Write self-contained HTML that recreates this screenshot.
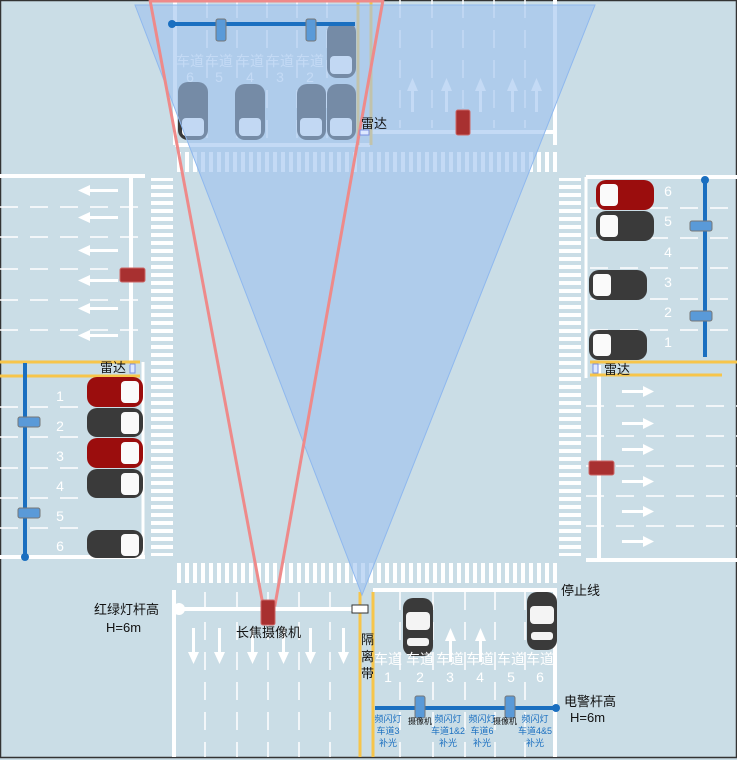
<!DOCTYPE html>
<html><head><meta charset="utf-8"><style>
html,body{margin:0;padding:0;background:#fff}
svg{display:block}
text{font-family:"Liberation Sans","Noto Sans CJK SC",sans-serif}
</style></head><body>
<svg id="s" width="737" height="760" viewBox="0 0 737 760">
<defs>
<pattern id="zh" width="8" height="20" patternUnits="userSpaceOnUse"><rect x="1" y="0" width="4" height="20" fill="#fff"/></pattern>
<pattern id="zv" width="22" height="8" patternUnits="userSpaceOnUse"><rect x="0" y="1" width="22" height="4" fill="#fff"/></pattern>
<g id="carv"><rect x="0" y="0" width="30" height="58" rx="10" fill="#3a3a3a"/><rect x="3" y="14" width="24" height="18" rx="4" fill="#f4f4f4"/><rect x="4" y="40" width="22" height="8" rx="3" fill="#f4f4f4"/></g>
</defs>
<rect x="0" y="0" width="737" height="760" fill="#cadde6"/>
<rect x="0.5" y="0.5" width="736" height="757" fill="none" stroke="#333" stroke-width="1.5"/>

<!-- crosswalks -->
<rect x="175" y="152" width="382" height="20" fill="url(#zh)"/>
<rect x="175" y="563" width="382" height="20" fill="url(#zh)"/>
<rect x="151" y="178" width="22" height="378" fill="url(#zv)"/>
<rect x="559" y="178" width="22" height="378" fill="url(#zv)"/>

<g stroke="#fff" fill="none">
<!-- north -->
<line x1="175" y1="0" x2="175" y2="145" stroke-width="4"/>
<line x1="175" y1="145" x2="370" y2="145" stroke-width="4"/>
<line x1="555" y1="0" x2="555" y2="145" stroke-width="4"/>
<line x1="370" y1="132" x2="555" y2="132" stroke-width="4"/>
<g stroke-width="1.5" stroke-dasharray="18,12"><line x1="207" y1="0" x2="207" y2="140"/><line x1="237" y1="0" x2="237" y2="140"/><line x1="267" y1="0" x2="267" y2="140"/><line x1="297" y1="0" x2="297" y2="140"/><line x1="327" y1="0" x2="327" y2="140"/><line x1="400" y1="0" x2="400" y2="128"/><line x1="432" y1="0" x2="432" y2="128"/><line x1="463" y1="0" x2="463" y2="128"/><line x1="494" y1="0" x2="494" y2="128"/><line x1="525" y1="0" x2="525" y2="128"/></g>
<!-- west -->
<line x1="0" y1="176" x2="145" y2="176" stroke-width="4"/>
<line x1="131" y1="176" x2="131" y2="365" stroke-width="4"/>
<line x1="0" y1="557" x2="145" y2="557" stroke-width="4"/>
<line x1="143" y1="362" x2="143" y2="557" stroke-width="3"/>
<g stroke-width="1.5" stroke-dasharray="18,12"><line x1="0" y1="207" x2="145" y2="207"/><line x1="0" y1="237" x2="145" y2="237"/><line x1="0" y1="269" x2="145" y2="269"/><line x1="0" y1="300" x2="145" y2="300"/><line x1="0" y1="330" x2="145" y2="330"/><line x1="0" y1="407" x2="85" y2="407"/><line x1="0" y1="437" x2="85" y2="437"/><line x1="0" y1="468" x2="85" y2="468"/><line x1="0" y1="498" x2="85" y2="498"/><line x1="0" y1="528" x2="85" y2="528"/></g>
<!-- east -->
<line x1="586" y1="177" x2="737" y2="177" stroke-width="4"/>
<line x1="586" y1="177" x2="586" y2="378" stroke-width="3"/>
<line x1="599" y1="365" x2="599" y2="560" stroke-width="4"/>
<line x1="586" y1="560" x2="737" y2="560" stroke-width="4"/>
<g stroke-width="1.5" stroke-dasharray="18,12"><line x1="590" y1="208" x2="737" y2="208"/><line x1="590" y1="238" x2="737" y2="238"/><line x1="590" y1="268" x2="737" y2="268"/><line x1="590" y1="299" x2="737" y2="299"/><line x1="590" y1="330" x2="737" y2="330"/><line x1="586" y1="406" x2="737" y2="406"/><line x1="586" y1="436" x2="737" y2="436"/><line x1="586" y1="466" x2="737" y2="466"/><line x1="586" y1="496" x2="737" y2="496"/><line x1="586" y1="526" x2="737" y2="526"/></g>
<!-- south -->
<line x1="174" y1="590" x2="174" y2="757" stroke-width="4"/>
<line x1="373" y1="590" x2="557" y2="590" stroke-width="4"/>
<line x1="555" y1="590" x2="555" y2="757" stroke-width="4"/>
<g stroke-width="1.5" stroke-dasharray="18,12"><line x1="205" y1="592" x2="205" y2="757"/><line x1="237" y1="592" x2="237" y2="757"/><line x1="268" y1="592" x2="268" y2="757"/><line x1="299" y1="592" x2="299" y2="757"/><line x1="330" y1="592" x2="330" y2="757"/><line x1="400" y1="592" x2="400" y2="757"/><line x1="433" y1="592" x2="433" y2="757"/><line x1="465" y1="592" x2="465" y2="757"/><line x1="495" y1="592" x2="495" y2="757"/><line x1="525" y1="592" x2="525" y2="757"/></g>
</g>

<!-- arrows -->
<g fill="#fff">
<g id="arrL"><rect x="88" y="189" width="30" height="3"/><polygon points="78,190.5 90,185 90,196"/></g>
<use href="#arrL" y="27"/><use href="#arrL" y="60"/><use href="#arrL" y="90"/><use href="#arrL" y="118"/><use href="#arrL" y="145"/>
<g id="arrR"><rect x="622" y="390" width="24" height="3"/><polygon points="654,391.5 643,386 643,397"/></g>
<use href="#arrR" y="32"/><use href="#arrR" y="58"/><use href="#arrR" y="90"/><use href="#arrR" y="120"/><use href="#arrR" y="150"/>
<g id="arrD"><rect x="192" y="628" width="3" height="28"/><polygon points="193.5,664 188,652 199,652"/></g>
<use href="#arrD" x="26"/><use href="#arrD" x="59"/><use href="#arrD" x="90"/><use href="#arrD" x="117"/><use href="#arrD" x="150"/>
<g id="arrU"><rect x="449" y="640" width="3" height="22"/><polygon points="450.5,628 445,641 456,641"/></g>
<use href="#arrU" x="30"/>
<g id="arrN"><rect x="411" y="90" width="3" height="22"/><polygon points="412.5,78 407,91 418,91"/></g>
<use href="#arrN" x="34"/><use href="#arrN" x="68"/><use href="#arrN" x="100"/><use href="#arrN" x="124"/>
</g>

<!-- yellow lines -->
<g stroke="#f7c54a" stroke-width="3">
<line x1="358" y1="0" x2="358" y2="145"/><line x1="371" y1="0" x2="371" y2="145"/>
<line x1="0" y1="362" x2="140" y2="362"/><line x1="0" y1="376" x2="140" y2="376"/>
<line x1="590" y1="362" x2="737" y2="362"/><line x1="590" y1="375" x2="722" y2="375"/>
<line x1="360" y1="592" x2="360" y2="757"/><line x1="373" y1="592" x2="373" y2="757"/>
</g>

<!-- cars -->
<g>
<use href="#carv" transform="translate(403,598)"/>
<use href="#carv" transform="translate(527,592)"/>
<g transform="rotate(90) " ></g>
<g transform="translate(143,377) rotate(90)"><rect width="30" height="56" rx="10" fill="#9b0d0d"/><rect x="4" y="4" width="22" height="18" rx="4" fill="#fafafa"/></g>
<g transform="translate(143,408) rotate(90)"><rect width="29" height="56" rx="10" fill="#3a3a3a"/><rect x="4" y="4" width="22" height="18" rx="4" fill="#fafafa"/></g>
<g transform="translate(143,438) rotate(90)"><rect width="30" height="56" rx="10" fill="#9b0d0d"/><rect x="4" y="4" width="22" height="18" rx="4" fill="#fafafa"/></g>
<g transform="translate(143,469) rotate(90)"><rect width="29" height="56" rx="10" fill="#3a3a3a"/><rect x="4" y="4" width="22" height="18" rx="4" fill="#fafafa"/></g>
<g transform="translate(143,530) rotate(90)"><rect width="28" height="56" rx="10" fill="#3a3a3a"/><rect x="4" y="4" width="22" height="18" rx="4" fill="#fafafa"/></g>
<g transform="translate(596,210) rotate(-90)"><rect width="30" height="58" rx="10" fill="#9b0d0d"/><rect x="4" y="4" width="22" height="18" rx="4" fill="#fafafa"/></g>
<g transform="translate(596,241) rotate(-90)"><rect width="30" height="58" rx="10" fill="#3a3a3a"/><rect x="4" y="4" width="22" height="18" rx="4" fill="#fafafa"/></g>
<g transform="translate(589,300) rotate(-90)"><rect width="30" height="58" rx="10" fill="#3a3a3a"/><rect x="4" y="4" width="22" height="18" rx="4" fill="#fafafa"/></g>
<g transform="translate(589,360) rotate(-90)"><rect width="30" height="58" rx="10" fill="#3a3a3a"/><rect x="4" y="4" width="22" height="18" rx="4" fill="#fafafa"/></g>
<g transform="translate(208,140) rotate(180)"><rect width="30" height="58" rx="10" fill="#3a3a3a"/><rect x="4" y="4" width="22" height="18" rx="4" fill="#fafafa"/></g>
<g transform="translate(265,140) rotate(180)"><rect width="30" height="56" rx="10" fill="#3a3a3a"/><rect x="4" y="4" width="22" height="18" rx="4" fill="#fafafa"/></g>
<g transform="translate(326,140) rotate(180)"><rect width="29" height="56" rx="10" fill="#3a3a3a"/><rect x="4" y="4" width="22" height="18" rx="4" fill="#fafafa"/></g>
<g transform="translate(356,140) rotate(180)"><rect width="29" height="56" rx="10" fill="#3a3a3a"/><rect x="4" y="4" width="22" height="18" rx="4" fill="#fafafa"/></g>
<g transform="translate(356,78) rotate(180)"><rect width="29" height="56" rx="10" fill="#3a3a3a"/><rect x="4" y="4" width="22" height="18" rx="4" fill="#fafafa"/></g>
</g>

<!-- lane labels -->
<g fill="#fff" font-size="14" text-anchor="middle">
<text x="388" y="664">车道</text><text x="388" y="682">1</text>
<text x="420" y="664">车道</text><text x="420" y="682">2</text>
<text x="450" y="664">车道</text><text x="450" y="682">3</text>
<text x="480" y="664">车道</text><text x="480" y="682">4</text>
<text x="511" y="664">车道</text><text x="511" y="682">5</text>
<text x="540" y="664">车道</text><text x="540" y="682">6</text>
<text x="190" y="66">车道</text><text x="190" y="82">6</text>
<text x="219" y="66">车道</text><text x="219" y="82">5</text>
<text x="250" y="66">车道</text><text x="250" y="82">4</text>
<text x="280" y="66">车道</text><text x="280" y="82">3</text>
<text x="310" y="66">车道</text><text x="310" y="82">2</text>
<text x="60" y="401">1</text><text x="60" y="431">2</text><text x="60" y="461">3</text><text x="60" y="491">4</text><text x="60" y="521">5</text><text x="60" y="551">6</text>
<text x="668" y="347">1</text><text x="668" y="317">2</text><text x="668" y="287">3</text><text x="668" y="257">4</text><text x="668" y="226">5</text><text x="668" y="196">6</text>
</g>

<!-- camera field of view -->
<polygon points="135,5 595,5 362,595" fill="#9cc1ee" fill-opacity="0.6" stroke="#8fb8ee" stroke-width="1"/>
<polyline points="150,0 263,605 275,605 383,0" fill="none" stroke="#ee8a8a" stroke-width="3"/>
<line x1="150" y1="1" x2="383" y2="1" stroke="#ee8a8a" stroke-width="3"/>

<!-- poles -->
<g>
<line x1="172" y1="24" x2="355" y2="24" stroke="#1a6fc0" stroke-width="4"/><circle cx="172" cy="24" r="4" fill="#1a6fc0"/>
<rect x="216" y="19" width="10" height="22" rx="2" fill="#5a9ad8" stroke="#777"/><rect x="306" y="19" width="10" height="22" rx="2" fill="#5a9ad8" stroke="#777"/>
<line x1="25" y1="363" x2="25" y2="557" stroke="#1a6fc0" stroke-width="4"/><circle cx="25" cy="557" r="4" fill="#1a6fc0"/>
<rect x="18" y="417" width="22" height="10" rx="2" fill="#5a9ad8" stroke="#777"/><rect x="18" y="508" width="22" height="10" rx="2" fill="#5a9ad8" stroke="#777"/>
<line x1="705" y1="180" x2="705" y2="357" stroke="#1a6fc0" stroke-width="4"/><circle cx="705" cy="180" r="4" fill="#1a6fc0"/>
<rect x="690" y="221" width="22" height="10" rx="2" fill="#5a9ad8" stroke="#777"/><rect x="690" y="311" width="22" height="10" rx="2" fill="#5a9ad8" stroke="#777"/>
<line x1="375" y1="708" x2="555" y2="708" stroke="#1a6fc0" stroke-width="4"/><circle cx="556" cy="708" r="4" fill="#1a6fc0"/>
<rect x="415" y="696" width="10" height="22" rx="2" fill="#5a9ad8" stroke="#777"/><rect x="505" y="696" width="10" height="22" rx="2" fill="#5a9ad8" stroke="#777"/>
<line x1="178" y1="609" x2="352" y2="609" stroke="#fff" stroke-width="4"/><circle cx="179" cy="609" r="6" fill="#fff"/>
<rect x="352" y="605" width="16" height="8" fill="#fff" stroke="#333"/>
<rect x="261" y="600" width="14" height="25" rx="2" fill="#a83030" stroke="#c66"/>
<rect x="456" y="110" width="14" height="25" rx="2" fill="#a83030" stroke="#c66"/>
<rect x="120" y="268" width="25" height="14" rx="2" fill="#a83030" stroke="#c66"/>
<rect x="589" y="461" width="25" height="14" rx="2" fill="#a83030" stroke="#c66"/>
<rect x="360" y="130" width="9" height="5" fill="#dde8ff" stroke="#7a8fe0"/>
<rect x="130" y="364" width="5" height="9" fill="#dde8ff" stroke="#7a8fe0"/>
<rect x="593" y="364" width="5" height="9" fill="#dde8ff" stroke="#7a8fe0"/>
</g>

<!-- labels -->
<g fill="#111" font-size="13">
<text x="361" y="128">雷达</text>
<text x="100" y="372">雷达</text>
<text x="604" y="374">雷达</text>
<text x="561" y="595">停止线</text>
<text x="94" y="614">红绿灯杆高</text>
<text x="106" y="632">H=6m</text>
<text x="236" y="637">长焦摄像机</text>
<text x="361" y="644">隔</text><text x="361" y="661">离</text><text x="361" y="678">带</text>
<text x="564" y="706">电警杆高</text>
<text x="570" y="722">H=6m</text>
</g>
<g fill="#1a6fc0" font-size="9" text-anchor="middle">
<text x="388" y="722">频闪灯</text><text x="388" y="734">车道3</text><text x="388" y="746">补光</text>
<text x="448" y="722">频闪灯</text><text x="448" y="734">车道1&amp;2</text><text x="448" y="746">补光</text>
<text x="482" y="722">频闪灯</text><text x="482" y="734">车道6</text><text x="482" y="746">补光</text>
<text x="535" y="722">频闪灯</text><text x="535" y="734">车道4&amp;5</text><text x="535" y="746">补光</text>
</g>
<g fill="#111" font-size="8" text-anchor="middle"><text x="420" y="724">摄像机</text><text x="505" y="724">摄像机</text></g>
</svg>
</body></html>
